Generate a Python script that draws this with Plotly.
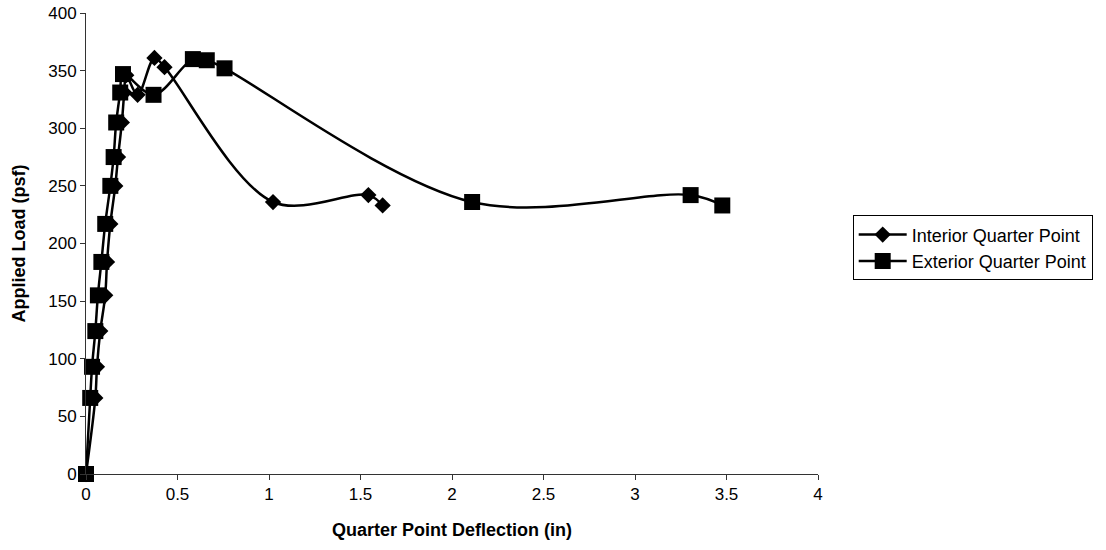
import plotly.graph_objects as go

# Interior Quarter Point
interior_x = [0.0, 0.051, 0.060, 0.078, 0.105, 0.115, 0.133, 0.160, 0.175, 0.196, 0.209, 0.220,
              0.282, 0.374, 0.429, 1.022, 1.543, 1.621]
interior_y = [0, 66, 93, 124, 155, 184, 217, 250, 275, 305, 331, 346,
              329, 361, 353, 236, 242, 233]

# Exterior Quarter Point
exterior_x = [0.0, 0.023, 0.033, 0.051, 0.065, 0.084, 0.105, 0.133, 0.151, 0.165, 0.187, 0.202,
              0.369, 0.584, 0.660, 0.757, 2.110, 3.304, 3.477]
exterior_y = [0, 66, 93, 124, 155, 184, 217, 250, 275, 305, 331, 347,
              329, 360, 359, 352, 236, 242, 233]

x_ticks = [0, 0.5, 1, 1.5, 2, 2.5, 3, 3.5, 4]
y_ticks = [0, 50, 100, 150, 200, 250, 300, 350, 400]

fig = go.Figure()
fig.add_trace(go.Scatter(
    x=interior_x, y=interior_y, name="Interior Quarter Point",
    mode="lines+markers", cliponaxis=False,
    line=dict(color="black", width=2.5, shape="spline", smoothing=1),
    marker=dict(symbol="diamond", size=12.5, color="black"),
))
fig.add_trace(go.Scatter(
    x=exterior_x, y=exterior_y, name="Exterior Quarter Point",
    mode="lines+markers", cliponaxis=False,
    line=dict(color="black", width=2.5, shape="spline", smoothing=1),
    marker=dict(symbol="square", size=16, color="black"),
))

font_family = "Liberation Sans, Arial, sans-serif"
fig.update_layout(
    width=1106, height=550,
    margin=dict(l=86, r=288, t=13, b=76),
    plot_bgcolor="white", paper_bgcolor="white",
    font=dict(family=font_family, size=17, color="black"),
    showlegend=True,
    legend=dict(
        x=1.0474, y=0.561, xanchor="left", yanchor="top",
        bordercolor="black", borderwidth=1, itemwidth=48,
        font=dict(family=font_family, size=18, color="black"),
        bgcolor="white", tracegroupgap=0,
    ),
    xaxis=dict(
        range=[0, 4], tickvals=x_ticks, ticktext=[str(v) for v in x_ticks],
        showgrid=False, zeroline=False, showline=True, linecolor="#333", linewidth=1,
        ticks="outside", ticklen=5, tickcolor="#333", automargin=False,
        ticklabeloverflow="allow",
        title=dict(text="<b>Quarter Point Deflection (in)</b>", font=dict(size=18), standoff=19),
    ),
    yaxis=dict(
        range=[0, 400], tickvals=y_ticks,
        showgrid=False, zeroline=False, showline=True, linecolor="#333", linewidth=1,
        ticks="outside", ticklen=5, tickcolor="#333", automargin=False,
        ticklabeloverflow="allow",
        title=dict(text="<b>Applied Load (psf)</b>", font=dict(size=18), standoff=17),
    ),
)

fig.write_html(
    "out.html",
    config={"displayModeBar": False},
    post_script="document.body.style.margin='0';",
)
